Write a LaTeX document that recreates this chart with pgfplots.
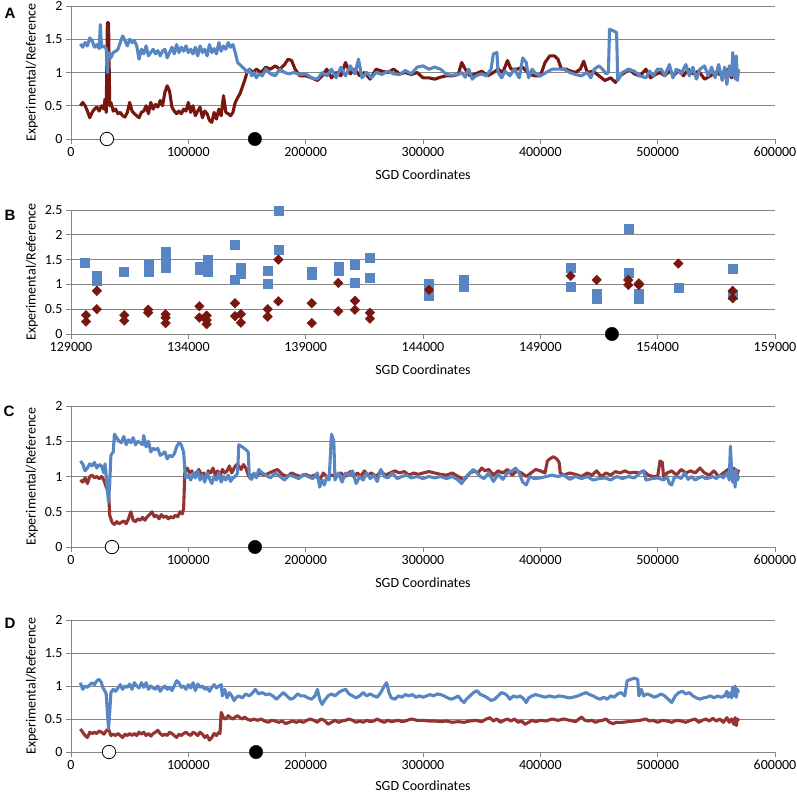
\documentclass[border=0pt]{standalone}
\usepackage{fontspec}
\setmainfont{Carlito}
\newfontfamily\arialfont{Liberation Sans}
\usepackage{pgfplots}
\pgfplotsset{compat=1.18}
\definecolor{myblue}{RGB}{88,134,195}
\definecolor{darkred}{RGB}{120,22,16}
\definecolor{midred}{RGB}{148,52,50}
\definecolor{gridgray}{RGB}{134,134,134}
\pgfplotsset{
  panel/.style={
    scale only axis, width=704bp, anchor=south west,
    axis x line=bottom, axis y line=left,
    axis line style={gridgray, line width=0.8bp, -},
    ymajorgrids, grid style={gridgray, line width=0.8bp},
    tick align=outside, major tick length=5bp,
    tick style={gridgray, line width=0.8bp},
    xmin=0, xmax=600, xtick={0,100,200,300,400,500,600},
    xticklabels={0,100000,200000,300000,400000,500000,600000},
    ymin=0, ymax=2, ytick={0,0.5,1,1.5,2}, yticklabels={0,0.5,1,1.5,2},
    ticklabel style={font=\fontsize{14bp}{16bp}\selectfont, text=black},
    label style={font=\fontsize{14bp}{16bp}\selectfont},
    xlabel={SGD Coordinates}, ylabel={Experimental/Reference},
    xlabel style={at={(axis description cs:0.5,0)}, anchor=center, yshift=-36bp},
    ylabel style={at={(axis description cs:-0.0554,0.5)}, anchor=center},
    clip=false,
  },
  ser/.style={line width=3.1bp, no markers, line join=round},
  openc/.style={only marks, mark=*, mark size=6.7bp, mark options={fill=white, draw=black, line width=0.8bp}},
  fillc/.style={only marks, mark=*, mark size=6.7bp, mark options={fill=black, draw=black}},
}
\begin{document}
\begin{tikzpicture}
\path[use as bounding box] (0,0) rectangle (797bp,-793bp);
% ---------------- A ----------------
\begin{axis}[panel, at={(71bp,-139bp)}, height=133bp]
\addplot[ser, darkred] coordinates {(8,0.50)(10,0.55)(12,0.50)(14,0.42)(16,0.32)(18,0.40)(20,0.45)(22,0.48)(24,0.42)(26,0.50)(28,0.45)(29,0.60)(30,0.40)(31,1.75)(32,1.75)(33,0.50)(34,0.55)(36,0.42)(38,0.45)(40,0.38)(42,0.40)(44,0.35)(46,0.33)(48,0.40)(50,0.55)(52,0.42)(54,0.38)(56,0.35)(58,0.32)(60,0.40)(62,0.42)(64,0.50)(66,0.38)(68,0.55)(70,0.45)(72,0.52)(74,0.48)(76,0.58)(78,0.50)(80,0.70)(82,0.80)(84,0.72)(86,0.48)(88,0.42)(90,0.38)(92,0.42)(94,0.38)(96,0.45)(98,0.42)(100,0.55)(102,0.40)(104,0.50)(106,0.35)(108,0.42)(110,0.48)(112,0.32)(114,0.42)(116,0.38)(118,0.28)(120,0.25)(122,0.40)(124,0.30)(126,0.45)(128,0.35)(130,0.65)(132,0.40)(134,0.38)(136,0.35)(138,0.40)(140,0.55)(142,0.62)(144,0.68)(146,0.78)(148,0.88)(150,1.00)(152,1.05)(155,1.00)(158,1.05)(162,1.00)(166,1.08)(170,1.05)(174,1.10)(178,1.05)(182,1.12)(185,1.20)(188,1.18)(191,1.05)(195,0.95)(200,0.95)(205,0.92)(210,0.88)(214,0.95)(218,1.05)(222,0.92)(226,1.00)(230,0.95)(234,1.15)(238,0.98)(242,1.05)(246,0.95)(250,1.00)(255,0.90)(260,1.05)(265,1.02)(270,1.00)(275,1.05)(280,0.98)(285,1.00)(290,0.97)(295,1.00)(300,0.92)(305,0.92)(310,0.90)(315,0.93)(320,0.95)(325,0.95)(330,0.97)(333,1.15)(336,1.05)(340,0.95)(345,0.98)(350,1.02)(355,0.95)(360,1.00)(364,1.05)(368,1.00)(372,1.18)(375,1.05)(380,1.05)(385,1.08)(390,0.98)(395,0.95)(400,0.95)(404,1.15)(408,1.25)(412,1.25)(415,1.20)(418,1.05)(422,1.05)(426,1.02)(430,1.00)(434,1.05)(437,1.17)(440,1.00)(445,1.02)(450,0.95)(455,0.88)(460,0.92)(464,0.85)(468,0.95)(472,1.00)(476,1.05)(480,0.98)(485,0.95)(490,1.05)(494,0.92)(498,0.97)(502,1.00)(506,0.95)(510,1.02)(514,0.96)(518,1.03)(522,0.95)(526,1.05)(530,0.98)(535,1.02)(540,0.90)(545,0.95)(550,1.00)(555,0.95)(560,1.05)(563,0.92)(566,1.05)(569,1.00)};
\addplot[ser, myblue] coordinates {(8,1.43)(10,1.38)(12,1.45)(14,1.40)(16,1.52)(18,1.48)(20,1.38)(22,1.42)(24,1.36)(25,1.72)(26,1.38)(28,1.40)(30,1.36)(31,1.00)(32,1.30)(34,1.22)(36,1.30)(38,1.32)(40,1.35)(42,1.45)(44,1.55)(46,1.48)(48,1.40)(50,1.50)(52,1.45)(54,1.48)(56,1.40)(58,1.20)(60,1.35)(62,1.28)(64,1.40)(66,1.25)(68,1.30)(70,1.35)(72,1.28)(74,1.33)(76,1.25)(78,1.32)(80,1.35)(82,1.22)(84,1.30)(86,1.38)(88,1.28)(90,1.42)(92,1.30)(94,1.38)(96,1.32)(98,1.40)(100,1.30)(102,1.35)(104,1.28)(106,1.38)(108,1.25)(110,1.40)(112,1.30)(114,1.35)(116,1.25)(118,1.42)(120,1.30)(122,1.36)(124,1.28)(126,1.45)(128,1.32)(130,1.40)(132,1.35)(134,1.45)(136,1.38)(138,1.42)(140,1.30)(142,1.15)(145,1.10)(148,1.05)(150,1.00)(152,1.05)(154,0.95)(156,1.00)(158,0.92)(160,0.98)(163,0.95)(166,1.05)(170,0.98)(174,0.95)(178,1.05)(182,1.00)(186,0.98)(190,1.00)(195,0.97)(200,0.98)(205,0.92)(210,0.90)(214,1.00)(218,0.95)(222,1.05)(226,0.92)(230,1.08)(234,0.95)(238,1.10)(242,0.98)(245,1.20)(248,0.92)(252,1.00)(256,0.92)(260,1.00)(265,0.97)(270,1.02)(275,0.98)(280,0.97)(285,1.03)(290,0.98)(295,1.08)(300,1.10)(305,1.05)(310,1.08)(315,1.05)(320,0.97)(325,0.96)(330,0.97)(333,1.00)(336,0.93)(339,1.05)(342,0.90)(345,0.95)(350,0.98)(354,0.95)(358,1.05)(360,1.28)(363,1.30)(364,1.00)(367,0.92)(370,1.02)(374,0.95)(378,1.05)(382,0.92)(385,1.22)(388,1.15)(390,0.92)(393,1.05)(396,0.98)(400,0.95)(405,1.00)(410,1.05)(415,1.05)(420,1.05)(425,1.00)(430,0.97)(435,0.95)(440,1.00)(443,0.92)(446,1.05)(450,1.10)(453,1.05)(456,0.98)(458,1.00)(459,1.65)(463,1.62)(465,1.60)(466,0.88)(470,1.00)(475,1.05)(480,1.02)(485,0.95)(490,0.92)(493,1.02)(496,0.95)(500,1.05)(503,1.05)(506,0.95)(510,1.12)(513,0.92)(516,1.05)(520,0.98)(524,1.12)(527,0.95)(530,1.08)(533,0.90)(536,1.05)(540,1.10)(543,0.95)(546,1.08)(549,0.92)(552,1.12)(555,0.88)(557,1.08)(559,0.82)(561,1.10)(563,0.95)(564,1.30)(565,1.15)(566,0.90)(567,1.25)(568,0.88)(569,1.05)};
\addplot[openc] coordinates {(30.6,0)};
\addplot[fillc] coordinates {(156.7,0)};
\end{axis}
% ---------------- B ----------------
\begin{axis}[panel, at={(71bp,-334bp)}, height=124bp,
  xmin=129000, xmax=159000, xtick={129000,134000,139000,144000,149000,154000,159000},
  xticklabels={129000,134000,139000,144000,149000,154000,159000}, scaled x ticks=false,
  ymax=2.5, ytick={0,0.5,1,1.5,2,2.5}, yticklabels={0,0.5,1,1.5,2,2.5}]
\addplot[only marks, mark=square*, mark size=4.5bp, mark options={fill=myblue, draw=myblue}] coordinates {
(129600,1.44)(130100,1.18)(130100,1.08)(131260,1.26)(132290,1.40)(132290,1.33)(132290,1.25)
(133030,1.65)(133030,1.50)(133030,1.40)(133030,1.34)(134470,1.30)(134470,1.35)
(134810,1.50)(134810,1.40)(134810,1.25)(135990,1.80)(135990,1.10)(136230,1.34)(136230,1.22)
(137380,1.28)(137380,1.02)(137835,2.48)(137835,1.69)(139260,1.20)(139260,1.25)
(140390,1.35)(140390,1.28)(141100,1.39)(141100,1.04)(141740,1.54)(141740,1.14)
(144255,1.02)(144255,0.77)(145716,1.09)(145716,0.95)(150290,1.34)(150290,0.96)
(151400,0.82)(151400,0.72)(152747,2.12)(152747,1.24)(153200,0.82)(153200,0.72)
(154880,0.94)(157195,1.31)(157195,0.80)};
\addplot[only marks, mark=square*, mark size=3.4bp, mark options={fill=darkred, draw=darkred, rotate=45}] coordinates {
(129640,0.38)(129640,0.25)(130100,0.87)(130100,0.50)(131270,0.38)(131270,0.27)
(132290,0.49)(132290,0.43)(133030,0.40)(133030,0.33)(133030,0.22)(134470,0.56)(134470,0.33)
(134780,0.37)(134780,0.28)(134780,0.20)(135990,0.62)(135990,0.36)(136240,0.40)(136240,0.23)
(137380,0.50)(137380,0.35)(137835,1.50)(137835,0.66)(139260,0.62)(139260,0.22)
(140390,1.03)(140390,0.46)(141100,0.67)(141100,0.49)(141740,0.43)(141740,0.31)
(144255,0.89)(150290,1.17)(151400,1.09)(152747,1.09)(152747,0.99)(153200,1.02)(153200,0.99)
(154880,1.42)(157195,0.87)(157195,0.72)};
\addplot[fillc] coordinates {(152050,0)};
\end{axis}
% ---------------- C ----------------
\begin{axis}[panel, at={(71bp,-547bp)}, height=141bp]
\addplot[ser, midred] coordinates {(8,0.95)(10,0.92)(12,0.98)(14,0.90)(16,1.00)(18,1.02)(20,0.98)(22,1.00)(24,0.97)(26,1.00)(28,0.95)(30,0.85)(32,0.78)(33,0.45)(35,0.35)(37,0.32)(39,0.36)(41,0.33)(43,0.35)(45,0.37)(47,0.33)(49,0.40)(51,0.50)(53,0.38)(55,0.36)(57,0.40)(59,0.38)(61,0.42)(63,0.38)(65,0.43)(67,0.46)(69,0.50)(71,0.43)(73,0.45)(75,0.40)(77,0.46)(79,0.42)(81,0.44)(83,0.40)(85,0.43)(87,0.41)(89,0.45)(91,0.43)(93,0.50)(95,0.47)(96,0.55)(97,1.05)(99,1.12)(101,1.05)(103,1.08)(105,1.00)(107,1.06)(109,1.10)(111,1.02)(113,1.05)(115,0.98)(117,1.08)(119,1.05)(121,1.12)(123,1.02)(125,1.08)(127,1.00)(129,1.10)(131,1.05)(133,1.08)(135,1.15)(137,1.05)(139,1.12)(141,1.17)(143,1.15)(145,1.10)(147,1.17)(149,1.12)(151,1.02)(153,0.97)(155,1.03)(158,1.00)(161,1.05)(165,1.02)(169,1.05)(173,1.08)(176,1.10)(180,1.03)(184,1.00)(188,1.05)(192,1.02)(196,1.00)(200,1.03)(204,1.00)(208,1.02)(212,0.95)(215,1.05)(218,1.00)(222,1.02)(226,1.00)(230,1.05)(234,1.00)(238,1.07)(241,1.00)(244,1.05)(247,1.00)(250,1.08)(253,1.02)(256,1.05)(260,1.00)(264,1.07)(268,1.02)(272,1.05)(276,1.08)(280,1.05)(284,1.07)(288,1.02)(292,1.05)(296,1.03)(300,1.05)(305,1.07)(310,1.05)(315,1.03)(320,1.02)(325,1.05)(330,1.00)(335,0.95)(340,1.05)(344,1.08)(347,1.05)(350,1.12)(353,1.08)(356,1.10)(360,1.02)(364,1.08)(368,1.05)(372,1.10)(376,1.02)(380,1.08)(384,1.05)(388,1.00)(392,1.05)(396,1.10)(400,1.08)(404,1.05)(406,1.22)(408,1.25)(411,1.28)(414,1.25)(416,1.20)(417,1.05)(420,1.02)(425,1.05)(430,1.03)(435,1.00)(440,1.05)(444,1.02)(448,1.08)(452,1.00)(456,1.05)(460,1.02)(464,1.07)(468,1.05)(472,1.08)(476,1.05)(480,1.06)(484,1.05)(488,1.08)(492,1.02)(496,1.00)(500,1.00)(502,1.22)(504,1.20)(505,1.00)(508,1.05)(512,1.08)(516,1.02)(520,1.10)(524,1.05)(528,1.08)(532,1.05)(536,1.12)(540,1.05)(544,1.02)(548,1.08)(552,1.00)(556,1.05)(560,1.10)(563,1.02)(565,1.12)(567,0.98)(569,1.10)};
\addplot[ser, myblue] coordinates {(8,1.22)(10,1.18)(12,1.08)(14,1.12)(16,1.18)(18,1.15)(20,1.20)(22,1.12)(24,1.17)(26,1.15)(28,1.05)(29,1.18)(30,1.02)(31,0.80)(32,0.64)(33,0.90)(34,1.30)(36,1.35)(37,1.60)(39,1.55)(41,1.50)(43,1.48)(45,1.57)(47,1.45)(49,1.52)(51,1.48)(53,1.55)(55,1.45)(57,1.50)(59,1.48)(61,1.45)(62,1.58)(64,1.42)(66,1.50)(68,1.35)(70,1.40)(72,1.38)(74,1.40)(76,1.30)(78,1.32)(80,1.35)(82,1.25)(84,1.30)(86,1.28)(88,1.32)(90,1.42)(92,1.48)(94,1.45)(96,1.35)(97,1.10)(98,0.98)(100,1.02)(102,0.95)(104,1.05)(106,0.98)(108,1.08)(110,0.95)(112,1.02)(114,0.92)(116,1.05)(118,0.97)(120,0.90)(122,1.00)(124,0.95)(126,1.05)(128,0.92)(130,1.00)(132,0.95)(134,1.02)(136,0.93)(138,0.98)(140,1.00)(142,1.05)(143,1.45)(146,1.42)(149,1.38)(151,1.35)(152,1.00)(154,0.96)(156,1.05)(158,0.98)(160,1.10)(163,1.05)(166,1.02)(170,0.98)(174,1.05)(178,1.00)(182,0.95)(186,1.02)(190,1.00)(194,0.97)(198,1.03)(202,1.00)(206,0.97)(210,1.05)(212,0.85)(214,0.95)(216,0.88)(218,1.00)(220,0.95)(222,1.60)(224,1.50)(225,0.95)(228,1.05)(231,0.92)(234,1.05)(237,1.02)(240,1.08)(243,0.90)(246,1.00)(249,0.95)(252,1.05)(255,0.97)(258,1.02)(261,0.93)(264,1.10)(267,1.00)(270,0.98)(274,1.05)(278,0.97)(282,1.00)(286,1.02)(290,0.98)(295,1.00)(300,0.97)(305,1.00)(310,0.98)(315,1.00)(320,0.97)(325,1.00)(330,0.95)(333,0.90)(336,0.98)(340,1.05)(343,1.10)(346,1.05)(349,1.00)(352,0.97)(356,1.05)(360,0.93)(364,1.03)(368,0.96)(372,1.05)(376,1.08)(379,1.12)(382,1.05)(385,0.92)(388,0.88)(391,1.00)(395,0.97)(400,0.98)(405,1.00)(410,1.02)(415,1.00)(420,1.02)(425,0.96)(430,1.00)(435,0.97)(440,1.00)(445,0.95)(450,0.97)(455,0.98)(460,0.95)(465,1.00)(470,0.97)(475,1.00)(480,0.98)(485,1.05)(488,1.08)(490,0.95)(495,0.97)(500,0.98)(505,0.95)(508,1.00)(510,0.90)(512,0.88)(514,0.98)(517,1.00)(520,0.97)(523,1.05)(526,0.96)(529,1.00)(532,0.95)(535,0.98)(538,1.00)(541,0.97)(544,0.98)(547,1.00)(550,0.97)(553,1.02)(556,0.98)(559,1.05)(561,0.95)(562,1.43)(563,1.10)(564,0.92)(565,1.08)(566,0.85)(567,1.10)(568,0.95)(569,1.00)};
\addplot[openc] coordinates {(34.9,0)};
\addplot[fillc] coordinates {(156.8,0)};
\end{axis}
% ---------------- D ----------------
\begin{axis}[panel, at={(71bp,-752bp)}, height=132bp, xlabel style={yshift=2.5bp}]
\addplot[ser, midred] coordinates {(8,0.35)(10,0.30)(12,0.25)(14,0.22)(16,0.30)(18,0.28)(20,0.30)(22,0.28)(24,0.32)(26,0.30)(28,0.27)(30,0.32)(32,0.35)(34,0.25)(36,0.27)(38,0.25)(40,0.28)(42,0.25)(44,0.22)(46,0.27)(48,0.25)(50,0.28)(52,0.25)(54,0.28)(56,0.25)(58,0.30)(60,0.27)(62,0.30)(64,0.25)(66,0.28)(68,0.24)(70,0.28)(72,0.30)(74,0.33)(76,0.28)(78,0.25)(80,0.27)(82,0.25)(84,0.30)(86,0.28)(88,0.25)(90,0.22)(92,0.27)(94,0.25)(96,0.28)(98,0.30)(100,0.27)(102,0.25)(104,0.30)(106,0.28)(108,0.25)(110,0.30)(112,0.27)(114,0.22)(116,0.25)(118,0.18)(120,0.22)(122,0.28)(124,0.25)(126,0.30)(127,0.28)(128,0.60)(130,0.52)(132,0.50)(134,0.55)(136,0.52)(138,0.50)(140,0.53)(142,0.55)(144,0.52)(146,0.50)(148,0.53)(150,0.50)(153,0.48)(156,0.50)(159,0.48)(162,0.50)(165,0.47)(168,0.45)(171,0.48)(174,0.47)(177,0.45)(180,0.47)(183,0.43)(186,0.45)(189,0.47)(192,0.45)(195,0.47)(198,0.45)(201,0.48)(204,0.50)(207,0.48)(210,0.45)(213,0.50)(216,0.48)(219,0.42)(222,0.45)(225,0.48)(228,0.45)(231,0.47)(234,0.48)(237,0.50)(240,0.48)(243,0.45)(246,0.47)(249,0.45)(252,0.48)(255,0.46)(258,0.47)(261,0.50)(264,0.47)(267,0.45)(270,0.48)(273,0.46)(276,0.47)(279,0.48)(282,0.46)(285,0.47)(290,0.50)(295,0.48)(300,0.48)(305,0.47)(310,0.47)(315,0.46)(320,0.47)(325,0.45)(330,0.46)(335,0.45)(340,0.47)(345,0.48)(350,0.46)(354,0.50)(357,0.52)(360,0.47)(363,0.50)(366,0.45)(369,0.48)(372,0.50)(375,0.47)(378,0.50)(381,0.45)(384,0.47)(387,0.42)(390,0.45)(393,0.48)(396,0.46)(400,0.48)(405,0.47)(410,0.50)(415,0.48)(420,0.50)(425,0.48)(430,0.46)(433,0.50)(435,0.53)(438,0.48)(441,0.47)(444,0.48)(447,0.45)(450,0.47)(453,0.48)(456,0.50)(459,0.45)(462,0.43)(465,0.45)(470,0.45)(475,0.46)(480,0.47)(485,0.48)(490,0.50)(493,0.47)(496,0.48)(500,0.45)(504,0.48)(508,0.47)(512,0.45)(516,0.48)(520,0.47)(524,0.45)(528,0.48)(532,0.50)(535,0.45)(538,0.48)(541,0.50)(544,0.47)(547,0.51)(550,0.47)(553,0.50)(556,0.45)(559,0.52)(561,0.45)(563,0.50)(565,0.42)(566,0.52)(567,0.40)(568,0.50)(569,0.47)};
\addplot[ser, myblue] coordinates {(8,1.05)(10,0.95)(12,1.00)(14,0.98)(16,1.02)(18,1.05)(20,1.02)(22,1.08)(24,1.10)(26,1.05)(27,0.98)(29,0.92)(30,0.88)(31,0.60)(32,0.35)(33,0.60)(34,0.90)(36,0.95)(38,0.92)(40,0.97)(42,1.02)(44,0.95)(46,1.00)(48,0.98)(50,1.03)(52,0.95)(54,1.05)(56,1.00)(58,0.97)(60,1.05)(62,0.98)(64,1.05)(66,0.95)(68,1.00)(70,0.97)(72,0.95)(74,1.00)(76,0.92)(78,0.97)(80,1.00)(82,0.95)(84,0.98)(86,0.93)(88,1.00)(90,1.08)(92,1.05)(94,0.98)(96,1.00)(98,0.95)(100,1.02)(102,0.97)(104,1.05)(106,0.93)(108,1.03)(110,0.98)(112,1.00)(114,0.95)(116,0.97)(118,0.92)(120,0.98)(122,1.02)(124,0.97)(126,1.00)(128,1.02)(129,0.85)(131,0.95)(133,0.82)(135,0.90)(137,0.85)(139,0.78)(141,0.83)(143,0.85)(146,0.82)(149,0.88)(152,0.85)(155,0.90)(157,0.95)(160,0.88)(163,0.90)(166,0.87)(169,0.88)(172,0.85)(175,0.80)(178,0.85)(181,0.90)(184,0.85)(187,0.80)(190,0.82)(193,0.88)(196,0.85)(199,0.85)(202,0.82)(205,0.80)(208,0.85)(210,0.95)(212,0.80)(214,0.72)(216,0.78)(219,0.85)(222,0.88)(225,0.85)(228,0.90)(231,0.93)(234,0.95)(237,0.88)(240,0.85)(243,0.82)(246,0.85)(249,0.90)(252,0.85)(255,0.88)(258,0.85)(261,0.83)(264,0.90)(267,1.00)(269,1.05)(271,0.90)(273,0.82)(276,0.80)(279,0.85)(282,0.83)(285,0.87)(288,0.85)(291,0.87)(294,0.83)(297,0.85)(300,0.83)(303,0.85)(306,0.87)(309,0.85)(312,0.88)(315,0.87)(318,0.85)(321,0.82)(324,0.80)(327,0.82)(330,0.85)(333,0.78)(335,0.75)(337,0.80)(340,0.85)(343,0.90)(346,0.93)(349,0.87)(352,0.85)(355,0.82)(358,0.78)(361,0.80)(364,0.85)(367,0.90)(370,0.88)(372,0.85)(374,0.80)(377,0.85)(380,0.83)(383,0.85)(386,0.80)(388,0.75)(390,0.82)(393,0.85)(396,0.87)(400,0.85)(404,0.83)(408,0.85)(412,0.83)(416,0.85)(420,0.84)(424,0.82)(428,0.83)(432,0.85)(436,0.88)(439,0.90)(442,0.87)(445,0.85)(448,0.82)(451,0.80)(454,0.83)(457,0.80)(460,0.85)(463,0.83)(466,0.88)(469,0.90)(472,0.85)(474,1.08)(477,1.10)(480,1.12)(483,1.10)(484,0.85)(486,0.95)(488,0.85)(491,0.88)(494,0.86)(497,0.83)(500,0.85)(503,0.88)(506,0.85)(509,0.80)(512,0.75)(515,0.85)(518,0.90)(521,0.92)(524,0.88)(527,0.90)(530,0.85)(533,0.82)(536,0.80)(539,0.82)(542,0.83)(545,0.85)(548,0.82)(551,0.85)(554,0.83)(557,0.85)(559,0.92)(560,0.83)(562,0.90)(563,0.82)(564,0.98)(565,0.85)(566,1.00)(567,0.83)(568,0.95)(569,0.90)};
\addplot[openc] coordinates {(32.4,0)};
\addplot[fillc] coordinates {(157.7,0)};
\end{axis}
% panel letters
\node[font=\arialfont\bfseries\fontsize{15bp}{18bp}\selectfont] at (10bp,-13bp) {A};
\node[font=\arialfont\bfseries\fontsize{15bp}{18bp}\selectfont] at (10bp,-215bp) {B};
\node[font=\arialfont\bfseries\fontsize{15bp}{18bp}\selectfont] at (9bp,-411bp) {C};
\node[font=\arialfont\bfseries\fontsize{15bp}{18bp}\selectfont] at (10bp,-623bp) {D};
\end{tikzpicture}
\end{document}
